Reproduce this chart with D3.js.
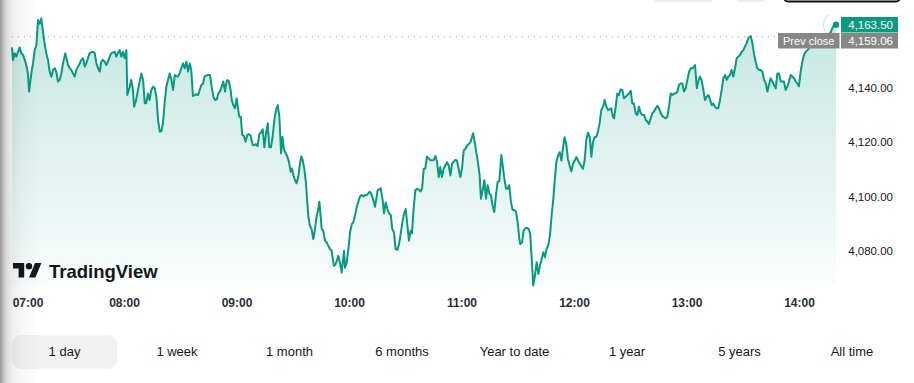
<!DOCTYPE html>
<html><head><meta charset="utf-8">
<script src="https://cdn.jsdelivr.net/npm/d3@7"></script>
<style>html,body{margin:0;padding:0;background:#fff;overflow:hidden}</style>
</head><body><svg id="c" width="914" height="383"></svg>
<script>
// ---- data ----
const hourLabels = ["07:00","08:00","09:00","10:00","11:00","12:00","13:00","14:00"];
const hourMinutes = [0,60,120,180,240,300,360,420];   // minutes after 07:00
const priceTicks = [4080,4100,4120,4140];
const prevClose = 4159.06;
const lastPrice = 4163.50;
const rangeButtons = ["1 day","1 week","1 month","6 months","Year to date","1 year","5 years","All time"];
// [minutes after 07:00, price]
const priceSeries = [
[0,4155.1],[0.5,4150.5],[1.4,4152.9],[2.3,4151.7],[3.2,4153.5],[4.1,4155.1],[5.0,4152.9],[5.9,4152.3],[6.8,4150.5],[7.6,4148.6],
[8.5,4145.5],[9.1,4138.8],[10.3,4145.5],[11.2,4149.2],[12.1,4154.1],[13.0,4155.9],[13.9,4165.2],[14.8,4163.9],[15.6,4165.8],[16.5,4160.9],
[17.4,4156.5],[18.3,4152.9],[19.2,4150.5],[20.1,4146.2],[21.0,4144.3],[21.9,4146.8],[22.8,4147.4],[23.6,4146.2],[24.5,4142.5],[25.4,4143.1],
[26.3,4145.5],[27.2,4149.2],[28.4,4152.9],[29.9,4148.6],[30.8,4147.4],[31.6,4146.8],[32.5,4145.5],[33.4,4144.3],[34.3,4146.8],[35.2,4148.0],
[36.1,4149.2],[37.0,4150.5],[37.9,4151.1],[38.8,4148.0],[39.6,4149.2],[40.5,4151.1],[41.4,4153.0],[42.3,4153.3],[43.2,4153.5],[44.1,4153.0],
[45.0,4149.2],[45.9,4147.4],[46.8,4146.2],[47.6,4149.8],[48.5,4150.5],[49.4,4149.8],[50.3,4148.6],[51.2,4149.8],[52.1,4151.7],[53.0,4153.0],
[53.9,4153.2],[54.8,4153.5],[55.6,4151.7],[56.5,4153.0],[57.4,4154.1],[58.3,4151.7],[59.2,4153.5],[60.1,4151.1],[61.0,4154.1],[61.5,4137.5],
[62.8,4140.6],[63.6,4143.1],[64.5,4139.4],[65.1,4133.2],[66.0,4135.1],[67.2,4139.4],[68.1,4142.5],[69.0,4145.5],[69.9,4143.1],[70.8,4134.5],
[71.6,4134.5],[72.5,4138.1],[73.4,4135.7],[74.3,4139.4],[75.2,4140.6],[76.1,4140.0],[77.0,4136.9],[77.9,4128.3],[78.8,4124.0],[79.6,4124.0],
[80.5,4127.1],[81.4,4134.5],[82.3,4140.6],[83.2,4143.1],[84.1,4145.5],[85.0,4143.1],[85.9,4139.4],[86.8,4144.9],[87.6,4144.5],[88.5,4144.3],
[89.4,4145.5],[90.3,4147.4],[91.2,4149.2],[92.1,4147.4],[93.0,4149.8],[93.9,4146.2],[94.8,4149.2],[95.6,4146.8],[96.5,4137.2],[97.4,4137.5],
[98.3,4137.8],[99.2,4137.5],[100.1,4139.4],[101.0,4141.2],[101.9,4141.8],[102.8,4144.5],[103.6,4144.7],[104.5,4144.9],
[105.6,4144.9],[106.5,4140.6],[107.4,4136.9],[108.3,4135.7],[109.2,4135.9],[110.0,4138.1],[110.9,4138.8],[111.8,4140.6],[112.7,4142.5],[113.6,4138.8],
[114.1,4141.2],[114.8,4143.1],[115.7,4142.5],[116.6,4139.4],[117.2,4135.7],[118.0,4133.8],[118.9,4132.6],[119.8,4136.3],[120.4,4133.2],[121.2,4129.5],
[122.0,4129.5],[122.8,4122.8],[123.7,4122.4],[124.6,4120.3],[125.5,4122.8],[126.4,4123.1],[127.3,4122.4],[128.4,4119.0],[129.2,4119.0],[130.1,4119.4],
[131.0,4118.6],[131.9,4123.1],[132.8,4123.7],[133.7,4124.9],[134.6,4118.2],[135.5,4123.4],[136.4,4127.1],[137.2,4118.2],[138.1,4118.2],[139.0,4122.1],
[139.9,4128.3],[140.8,4132.0],[141.7,4133.8],[142.6,4129.5],[143.5,4116.0],[144.2,4122.1],[145.1,4117.2],[146.0,4116.0],[146.8,4114.8],[147.7,4112.9],
[148.6,4109.2],[149.3,4110.4],[150.0,4108.0],[150.9,4106.1],[151.8,4104.9],[152.7,4107.3],[153.6,4112.3],[154.3,4114.8],[155.0,4113.6],[155.9,4110.1],
[156.8,4104.9],[157.5,4097.8],[158.0,4092.9],[158.9,4089.2],[159.8,4088.0],[160.7,4084.3],[161.6,4088.0],[162.5,4092.9],[163.4,4095.4],[163.9,4098.1],
[164.6,4092.9],[165.2,4088.0],[166.0,4087.4],[166.9,4083.7],[167.8,4083.1],[168.7,4081.8],[169.6,4080.6],[170.5,4080.0],[171.0,4077.5],[171.7,4074.4],
[172.6,4075.0],[173.5,4076.9],[174.0,4078.1],[174.9,4075.6],[175.8,4071.9],[176.4,4075.6],[177.1,4080.0],[177.6,4073.7],[178.5,4075.6],[179.4,4080.6],
[180.3,4086.8],[181.2,4089.8],[182.0,4090.4],[182.9,4092.9],[183.8,4096.0],[184.7,4098.1],[185.6,4100.0],[186.5,4100.6],[187.4,4100.0],[188.3,4100.6],
[189.2,4100.5],[190.0,4101.2],[190.9,4101.8],[191.8,4100.6],[192.7,4098.7],[193.6,4096.2],[194.5,4100.0],[195.0,4102.4],[195.9,4102.7],[196.6,4103.1],
[197.7,4098.7],[198.4,4093.8],[199.3,4097.8],[200.2,4095.4],[201.1,4093.8],[202.0,4093.2],[202.8,4088.0],[203.7,4086.8],[204.6,4080.6],[205.5,4080.3],
[206.4,4082.4],[207.3,4086.2],[208.2,4090.4],[209.1,4093.8],[210.0,4095.4],[210.8,4089.8],[211.7,4083.7],[212.6,4087.4],
[213.3,4086.4],[214.2,4095.5],[215.1,4102.3],[216.0,4102.9],[216.9,4102.6],[217.8,4101.9],[218.7,4102.9],[219.6,4110.3],[220.4,4110.3],[221.3,4114.7],
[222.2,4114.1],[223.1,4113.5],[224.0,4113.3],[224.9,4113.5],[225.8,4115.0],[226.7,4112.7],[227.6,4107.2],[228.4,4110.9],[229.3,4107.2],[230.2,4110.3],
[231.1,4111.5],[232.0,4112.7],[232.9,4111.5],[233.8,4107.8],[234.7,4112.1],[235.5,4112.9],[236.4,4113.5],[237.3,4113.3],[238.2,4110.3],[239.1,4107.2],
[240.0,4110.3],[240.9,4117.0],[241.8,4117.6],[242.7,4118.8],[243.6,4119.4],[244.4,4120.0],[245.3,4121.9],[245.9,4123.4],[246.8,4120.0],[247.6,4116.4],
[248.5,4112.7],[249.4,4107.8],[250.1,4099.2],[251.0,4102.3],[251.9,4106.0],[252.8,4099.2],[253.7,4104.2],[254.6,4101.1],[255.5,4100.4],[256.3,4096.7],
[257.2,4094.3],[258.1,4100.4],[259.0,4105.4],[259.9,4105.7],[261.0,4115.4],[261.7,4111.5],[262.6,4106.6],[263.5,4102.9],[264.3,4102.9],[265.2,4104.2],
[266.1,4098.1],[267.0,4095.0],[267.9,4095.0],[268.8,4094.4],[269.7,4090.4],[270.6,4084.3],[271.1,4082.4],[272.0,4083.1],[272.9,4087.4],[273.8,4088.3],
[274.7,4088.4],[275.6,4088.0],[276.4,4086.2],[277.3,4075.7],[278.0,4067.1],[278.9,4070.8],[279.8,4075.7],[280.7,4071.4],[281.6,4074.5],[282.5,4077.0],
[283.4,4079.4],[284.3,4077.6],[285.1,4080.7],[286.0,4081.9],[286.9,4085.6],[287.8,4093.0],[288.7,4099.2],[289.4,4105.4],[290.3,4112.7],[291.2,4115.2],
[292.1,4116.4],[293.0,4113.3],[293.9,4118.2],[294.7,4121.9],[295.6,4119.4],[296.5,4113.9],[297.4,4111.5],[298.3,4109.3],[299.2,4112.1],[300.1,4113.3],
[301.0,4114.6],[301.9,4113.3],[302.8,4112.1],[303.6,4111.3],[304.5,4110.3],[305.4,4113.3],[306.3,4120.9],[307.2,4123.6],[308.1,4122.1],[309.0,4114.7],
[309.8,4120.0],[310.7,4121.9],[311.6,4122.1],[312.5,4124.0],[313.4,4127.1],[314.3,4132.0],[315.2,4133.2],[316.1,4135.7],[317.0,4133.2],[317.8,4132.0],
[318.7,4132.2],[319.6,4132.6],[320.5,4129.5],
[321.1,4128.9],[322.0,4133.2],[322.8,4138.1],[323.7,4137.5],[324.6,4139.6],[325.5,4139.4],[326.4,4136.3],[327.3,4136.9],[328.2,4137.5],[329.1,4138.1],
[330.0,4139.1],[330.8,4134.4],[331.7,4134.4],[332.6,4130.8],[333.5,4130.1],[334.4,4133.2],[335.3,4130.8],[336.2,4130.1],[337.1,4130.1],[338.0,4128.3],
[338.9,4127.7],[339.7,4126.8],[340.6,4128.9],[341.5,4130.8],[342.4,4131.4],[343.3,4132.6],[344.2,4133.5],[345.1,4132.6],[346.0,4130.8],[346.9,4129.8],
[347.7,4129.3],[348.6,4128.9],[349.5,4129.5],[350.4,4133.2],[351.3,4138.1],[352.2,4137.5],[353.1,4138.1],[354.0,4138.1],[354.9,4138.8],[355.7,4141.2],
[356.6,4141.8],[357.5,4141.8],[358.4,4138.8],[359.3,4140.0],[360.2,4143.1],[361.1,4146.1],[362.0,4147.4],[362.9,4147.4],[363.7,4148.0],[364.3,4148.6],
[365.2,4140.0],[366.0,4142.5],[366.9,4144.3],[367.8,4143.1],[368.7,4139.4],[369.6,4135.7],[370.5,4136.9],[371.4,4137.5],[372.3,4135.7],[373.2,4133.8],
[374.0,4134.4],[374.9,4133.2],[375.8,4132.6],[376.7,4132.6],[377.6,4135.7],[378.5,4139.4],[379.4,4143.7],[380.3,4144.9],[381.2,4143.1],[382.0,4144.3],
[382.9,4144.9],[383.8,4146.8],[384.7,4144.3],[385.6,4147.4],[386.5,4151.1],[387.4,4151.7],[388.3,4152.3],[389.2,4153.5],[390.1,4154.1],[390.9,4155.4],
[391.8,4156.6],[392.7,4158.5],[393.6,4159.1],[394.0,4159.3],[394.9,4156.6],[395.7,4152.9],[396.6,4149.8],[397.5,4147.4],[398.4,4146.8],[399.3,4146.8],
[400.2,4146.1],[401.1,4143.1],[402.0,4141.8],[402.9,4138.8],[403.7,4141.2],[404.6,4143.7],[405.5,4142.5],[406.4,4141.2],[407.3,4140.0],[408.2,4145.5],
[409.1,4145.5],[410.0,4142.5],[410.8,4142.5],[411.7,4142.5],[412.6,4139.4],[413.5,4140.6],[414.4,4142.5],[415.3,4144.9],[416.2,4144.3],[417.1,4143.7],
[418.0,4142.5],[418.8,4141.8],[419.7,4140.8],[420.6,4146.1],[421.5,4149.8],[422.4,4152.3],[423.3,4153.5],[424.2,4154.1],[425.1,4154.8],[426.0,4155.4],
[428.3,4157.8],[433.6,4159.0],[436.5,4160.5],[438.0,4163.0],[439.5,4163.5]
];

// ---- drawing ----
const svg = d3.select("#c");
const W = 914, H = 383;
const plotLeft = 12, plotBottom = 285;
const x = d3.scaleLinear().domain([0, 420]).range([12, 799.5]);
const y = d3.scaleLinear().domain([4080, 4140]).range([250.7, 88.3]);
const green = "#089981";
const fmt = d3.format(",.2f");

const defs = svg.append("defs");
const ag = defs.append("linearGradient").attr("id","areaGrad")
  .attr("gradientUnits","userSpaceOnUse").attr("x1",0).attr("x2",0).attr("y1",15).attr("y2",plotBottom);
ag.append("stop").attr("offset","0").attr("stop-color",green).attr("stop-opacity",0.24);
ag.append("stop").attr("offset","1").attr("stop-color",green).attr("stop-opacity",0.02);

const sg = defs.append("linearGradient").attr("id","shadowGrad").attr("x1",0).attr("x2",1).attr("y1",0).attr("y2",0);
[[0,0.42],[0.07,0.27],[0.16,0.14],[0.3,0.07],[0.5,0.03],[1,0]].forEach(([o,a]) =>
  sg.append("stop").attr("offset",o).attr("stop-color","#000").attr("stop-opacity",a));

// top decorations (partially visible controls)
svg.append("rect").attr("x",653).attr("y",-10).attr("width",60).attr("height",12).attr("rx",4).attr("fill","#ececec");
svg.append("rect").attr("x",736).attr("y",-10).attr("width",29).attr("height",12).attr("rx",4).attr("fill","#ececec");
svg.append("rect").attr("x",784).attr("y",-10).attr("width",116).attr("height",11.5).attr("rx",4)
  .attr("fill","#fff").attr("stroke","#111").attr("stroke-width",2);

// area
const area = d3.area().x(d => x(d[0])).y0(plotBottom).y1(d => y(d[1]));
svg.append("path").datum(priceSeries).attr("d", area).attr("fill","url(#areaGrad)");

// prev close dotted line
svg.append("line").attr("x1",plotLeft).attr("x2",840).attr("y1",y(prevClose)).attr("y2",y(prevClose))
  .attr("stroke","#9a9ea8").attr("stroke-width",1).attr("stroke-dasharray","1,5");

// line
const line = d3.line().x(d => x(d[0])).y(d => y(d[1]));
svg.append("path").datum(priceSeries).attr("d", line).attr("fill","none")
  .attr("stroke",green).attr("stroke-width",2).attr("stroke-linejoin","round");

// last point marker
const last = priceSeries[priceSeries.length-1];
svg.append("path").attr("transform",`translate(${x(last[0])},${y(last[1])})`)
  .attr("d", d3.arc().innerRadius(12).outerRadius(13.2).startAngle(-Math.PI/2-0.9).endAngle(-Math.PI/2+0.9)())
  .attr("fill",green).attr("opacity",0.22);
svg.append("circle").attr("cx",x(last[0])).attr("cy",y(last[1])).attr("r",3.2).attr("fill",green);

// y-axis labels
svg.append("g").selectAll("text").data(priceTicks).join("text")
  .attr("x",893).attr("y",d => y(d)+4).attr("text-anchor","end")
  .attr("font-family","Liberation Sans, Arial, sans-serif").attr("font-size","11.5px").attr("fill","#131722")
  .text(d => fmt(d));

// price tags
svg.append("rect").attr("x",841).attr("y",17).attr("width",57).attr("height",15.5).attr("fill",green);
svg.append("text").attr("x",893).attr("y",y(lastPrice)+4.5).attr("text-anchor","end")
  .attr("font-family","Liberation Sans, Arial, sans-serif").attr("font-size","11.5px").attr("fill","#fff").text(fmt(lastPrice));
svg.append("rect").attr("x",841).attr("y",33).attr("width",57).attr("height",15.5).attr("fill","#878787");
svg.append("text").attr("x",893).attr("y",45).attr("text-anchor","end")
  .attr("font-family","Liberation Sans, Arial, sans-serif").attr("font-size","11.5px").attr("fill","#fff").text(fmt(prevClose));
svg.append("rect").attr("x",778).attr("y",33).attr("width",61.5).attr("height",15.5).attr("fill","#878787");
svg.append("text").attr("x",808.7).attr("y",45).attr("text-anchor","middle")
  .attr("font-family","Liberation Sans, Arial, sans-serif").attr("font-size","11px").attr("fill","#fff").text("Prev close");

// x-axis labels
svg.append("g").selectAll("text").data(hourMinutes).join("text")
  .attr("x",d => Math.max(x(d), 28)).attr("y",307).attr("text-anchor","middle")
  .attr("font-family","Liberation Sans, Arial, sans-serif").attr("font-size","12px").attr("font-weight","bold")
  .attr("fill","#2a2e39").text((d,i) => hourLabels[i]);

// TradingView logo
const logo = svg.append("g").attr("transform","translate(13,259.8) scale(0.8)").attr("fill","#131722");
logo.append("path").attr("d","M14 22H7V11H0V4h14v18zM28 22h-8l7.5-18h8L28 22z");
logo.append("circle").attr("cx",20).attr("cy",8).attr("r",4);
svg.append("text").attr("x",49).attr("y",277.5)
  .attr("font-family","Liberation Sans, Arial, sans-serif").attr("font-size","18.5px").attr("font-weight","bold")
  .attr("fill","#131722").text("TradingView");

// range buttons
const bx = d3.scalePoint().domain(rangeButtons).range([64.5, 852]);
svg.append("rect").attr("x",12).attr("y",335).attr("width",105).attr("height",34).attr("rx",9).attr("fill","#f2f2f2");
svg.append("g").selectAll("text").data(rangeButtons).join("text")
  .attr("x",d => bx(d)).attr("y",355.5).attr("text-anchor","middle")
  .attr("font-family","Liberation Sans, Arial, sans-serif").attr("font-size","13px").attr("fill","#131722")
  .text(d => d);

// left edge shadow
svg.append("rect").attr("x",0).attr("y",0).attr("width",42).attr("height",H).attr("fill","url(#shadowGrad)");
</script></body></html>
